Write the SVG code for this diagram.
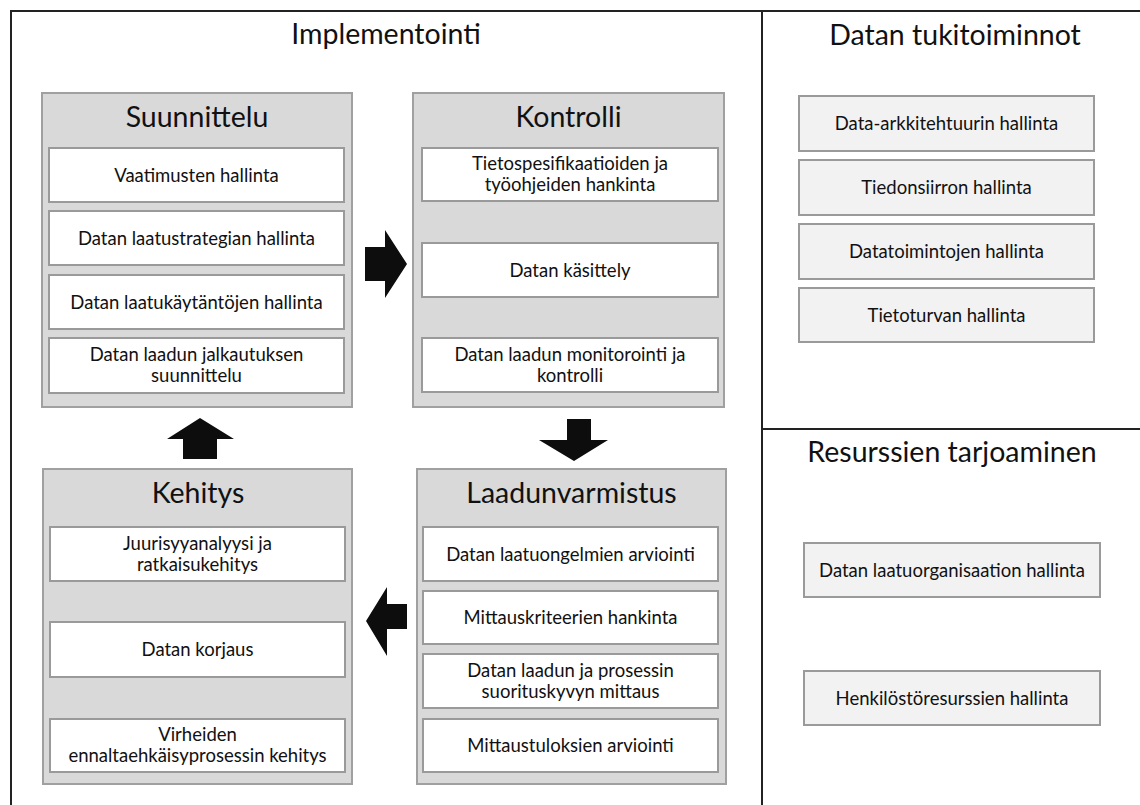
<svg xmlns="http://www.w3.org/2000/svg" width="1140" height="805" viewBox="0 0 1140 805">
<style>
text{font-family:Lato,"Open Sans","Liberation Sans",sans-serif;fill:#111;text-anchor:middle}
.h{font-size:28.5px}
.t{font-size:18.5px}
.frame{stroke:#222;stroke-width:2;fill:none}
.grp{fill:#d9d9d9;stroke:#a0a0a0;stroke-width:2}
.item{fill:#fff;stroke:#9a9a9a;stroke-width:2}
.side{fill:#f2f2f2;stroke:#9a9a9a;stroke-width:2}
.arr{fill:#0d0d0d}
</style>
<rect width="1140" height="805" fill="#fff"/>
<g id="frame" class="frame">
<path d="M11,805 V11 H1140"/>
<path d="M762,11 V805"/>
<path d="M762,429 H1140"/>
</g>
<text class="h" x="386" y="44">Implementointi</text>
<text class="h" x="955" y="45">Datan tukitoiminnot</text>
<text class="h" x="952" y="462">Resurssien tarjoaminen</text>

<g id="suunnittelu">
<rect class="grp" x="42" y="93" width="310" height="314"/>
<text class="h" x="197" y="127">Suunnittelu</text>
<rect class="item" x="49" y="148" width="295" height="54"/>
<text class="t" x="196.5" y="182">Vaatimusten hallinta</text>
<rect class="item" x="49" y="211" width="295" height="54"/>
<text class="t" x="196.5" y="245">Datan laatustrategian hallinta</text>
<rect class="item" x="49" y="275" width="295" height="54"/>
<text class="t" x="196.5" y="309">Datan laatukäytäntöjen hallinta</text>
<rect class="item" x="49" y="338" width="295" height="55"/>
<text class="t" x="196.5" y="361">Datan laadun jalkautuksen</text>
<text class="t" x="196.5" y="382">suunnittelu</text>
</g>

<g id="kontrolli">
<rect class="grp" x="413" y="93" width="311" height="314"/>
<text class="h" x="568.5" y="127">Kontrolli</text>
<rect class="item" x="422" y="148" width="296" height="53"/>
<text class="t" x="570" y="170">Tietospesifikaatioiden ja</text>
<text class="t" x="570" y="191">työohjeiden hankinta</text>
<rect class="item" x="422" y="243" width="296" height="54"/>
<text class="t" x="570" y="277">Datan käsittely</text>
<rect class="item" x="422" y="338" width="296" height="54"/>
<text class="t" x="570" y="361">Datan laadun monitorointi ja</text>
<text class="t" x="570" y="382">kontrolli</text>
</g>

<g id="laadunvarmistus">
<rect class="grp" x="417" y="469" width="309" height="315"/>
<text class="h" x="571.5" y="503">Laadunvarmistus</text>
<rect class="item" x="423" y="527" width="295" height="54"/>
<text class="t" x="570.5" y="561">Datan laatuongelmien arviointi</text>
<rect class="item" x="423" y="591" width="295" height="53"/>
<text class="t" x="570.5" y="624">Mittauskriteerien hankinta</text>
<rect class="item" x="423" y="654" width="295" height="54"/>
<text class="t" x="570.5" y="677">Datan laadun ja prosessin</text>
<text class="t" x="570.5" y="698">suorituskyvyn mittaus</text>
<rect class="item" x="423" y="719" width="295" height="53"/>
<text class="t" x="570.5" y="752">Mittaustuloksien arviointi</text>
</g>

<g id="kehitys">
<rect class="grp" x="43" y="469" width="309" height="315"/>
<text class="h" x="198" y="503">Kehitys</text>
<rect class="item" x="50" y="527" width="295" height="54"/>
<text class="t" x="197.5" y="550">Juurisyyanalyysi ja</text>
<text class="t" x="197.5" y="571">ratkaisukehitys</text>
<rect class="item" x="50" y="622" width="295" height="55"/>
<text class="t" x="197.5" y="656">Datan korjaus</text>
<rect class="item" x="50" y="719" width="295" height="53"/>
<text class="t" x="197.5" y="741">Virheiden</text>
<text class="t" x="197.5" y="762">ennaltaehkäisyprosessin kehitys</text>
</g>

<g id="tukitoiminnot">
<rect class="side" x="799" y="96" width="295" height="55"/>
<text class="t" x="946.5" y="130">Data-arkkitehtuurin hallinta</text>
<rect class="side" x="799" y="160" width="295" height="55"/>
<text class="t" x="946.5" y="194">Tiedonsiirron hallinta</text>
<rect class="side" x="799" y="224" width="295" height="55"/>
<text class="t" x="946.5" y="258">Datatoimintojen hallinta</text>
<rect class="side" x="799" y="288" width="295" height="54"/>
<text class="t" x="946.5" y="322">Tietoturvan hallinta</text>
</g>

<g id="resurssit">
<rect class="side" x="804" y="543" width="296" height="54"/>
<text class="t" x="952" y="577">Datan laatuorganisaation hallinta</text>
<rect class="side" x="804" y="671" width="296" height="54"/>
<text class="t" x="952" y="705">Henkilöstöresurssien hallinta</text>
</g>

<g id="connectors" class="arr">
<polygon points="365,247 385,247 385,230 407,264 385,298 385,281 365,281"/>
<polygon points="567,419 591,419 591,440 608,440 574,461 539,440 567,440"/>
<polygon points="407,604 407,629 387,629 387,656 366,621 387,587 387,604"/>
<polygon points="183,459 217,459 217,439 234,439 200,418 167,439 183,439"/>
</g>
</svg>
